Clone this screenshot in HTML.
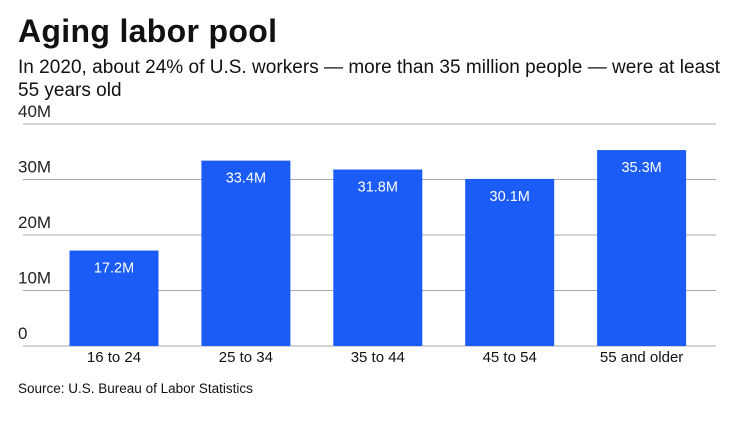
<!DOCTYPE html>
<html><head><meta charset="utf-8"><style>
body{margin:0;background:#fff;font-family:"Liberation Sans",sans-serif;}
</style></head><body>
<svg width="740" height="416" xmlns="http://www.w3.org/2000/svg">
<text x="18" y="42" font-size="32" font-weight="bold" fill="#111" textLength="259">Aging labor pool</text>
<text x="18" y="73" font-size="19" fill="#111" textLength="702">In 2020, about 24% of U.S. workers — more than 35 million people — were at least</text>
<text x="18" y="96" font-size="19" fill="#111">55 years old</text>
<g id="grid"></g><g id="bars"></g>
<text x="18" y="393" font-size="13.5" fill="#111">Source: U.S. Bureau of Labor Statistics</text>
</svg>
<script>
const categories=["16 to 24","25 to 34","35 to 44","45 to 54","55 and older"];
const values=[17.2,33.4,31.8,30.1,35.3];
const valueLabels=["17.2M","33.4M","31.8M","30.1M","35.3M"];
const ticks=[0,10,20,30,40];
const tickLabels=["0","10M","20M","30M","40M"];
const NS="http://www.w3.org/2000/svg";
const y0=346,y1=124,vmax=40;
const y=v=>y0-(v/vmax)*(y0-y1);
const xc=i=>114+i*131.9;
const bw=89;
function mk(t,a,p){const e=document.createElementNS(NS,t);for(const k in a)e.setAttribute(k,a[k]);p.appendChild(e);return e;}
const g=document.getElementById('grid'),b=document.getElementById('bars');
ticks.forEach((t,i)=>{
 const l=mk('line',{x1:23,x2:716,y1:y(t),y2:y(t),stroke:'#aaa','stroke-width':1},g);
 
 
 const tx=mk('text',{x:18,y:y(t)-7,'font-size':17,fill:'#222'},g);
 tx.textContent=tickLabels[i];
 
 
});
values.forEach((v,i)=>{
 const r=mk('rect',{x:xc(i)-bw/2,y:y(v),width:bw,height:y0-y(v),fill:'#1a5cf5'},b);
 
 
 const t=mk('text',{x:xc(i),y:y(v)+22,'font-size':14.5,fill:'#fff','text-anchor':'middle'},b);
 t.textContent=valueLabels[i];
 
 
 const c=mk('text',{x:xc(i),y:362,'font-size':15,fill:'#111','text-anchor':'middle'},b);
 c.textContent=categories[i];
 
 
});
</script>
</body></html>
